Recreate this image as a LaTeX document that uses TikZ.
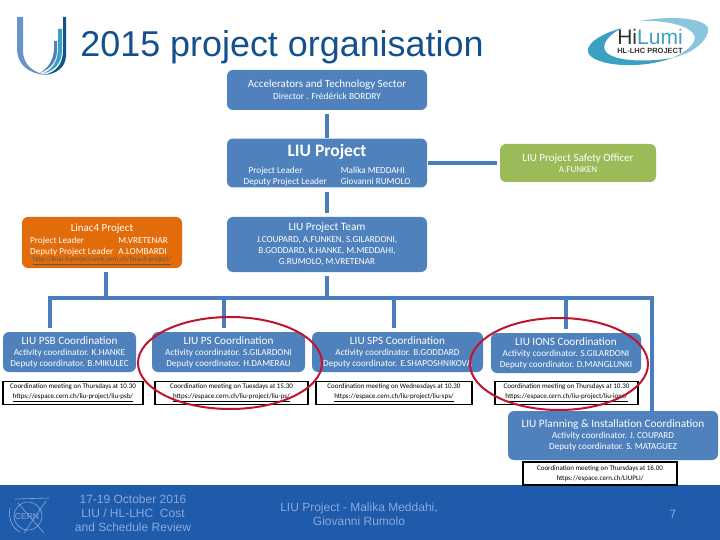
\documentclass[tikz,border=0pt]{standalone}
\usepackage{fontspec}
\setmainfont{Carlito}
\newfontfamily\arialfont{Liberation Sans}
\definecolor{BoxBlue}{RGB}{79,129,189}
\definecolor{BoxOrange}{RGB}{227,108,10}
\definecolor{BoxGreen}{RGB}{155,187,89}
\definecolor{LineBlue}{RGB}{74,126,187}
\definecolor{FootBlue}{RGB}{31,91,171}
\definecolor{FootText}{RGB}{135,170,220}
\definecolor{TitleBlue}{RGB}{20,80,140}
\definecolor{RingRed}{RGB}{190,20,45}
\definecolor{LogoTeal}{RGB}{60,160,195}
\usetikzlibrary{positioning,arrows.meta}
\begin{document}
\begin{tikzpicture}[x=1pt,y=-1pt,
      box/.style={fill=BoxBlue,rounded corners=6pt,inner sep=0pt,align=center,text=white,
                  font=\fontsize{9.2}{11}\selectfont},
      meet/.style={draw=black,line width=1.4pt,fill=white,inner sep=0pt,align=center,
                  font=\fontsize{7}{10}\selectfont},
      foot/.style={text=FootText,align=center,font=\arialfont\fontsize{12}{14}\selectfont},
      link/.style={line width=3.6pt,draw=LineBlue},
      ring/.style={draw=RingRed,line width=2pt}]
    \useasboundingbox (0,0) rectangle (720,540);
    % footer band
    \fill[FootBlue] (0,485) rectangle (720,540);
    \node[text=TitleBlue,font=\arialfont\fontsize{35.9}{38}\selectfont] (title) at (282,47) {2015 project organisation};
    % U logo
    \fill[BoxBlue!85] (17,17) -- (23,17) -- (23,50) .. controls (23,66) and (34,72) .. (46,75) .. controls (30,74) and (17,66) .. (17,48) -- cycle;
    \fill[TitleBlue] (63,17) -- (66,17) -- (66,55) .. controls (66,68) and (56,74) .. (44,75) .. controls (55,72) and (63,66) .. (63,50) -- cycle;
    \fill[LogoTeal] (58,29) -- (62,29) -- (62,50) .. controls (62,64) and (54,71) .. (42,74) .. controls (52,70) and (58,62) .. (58,48) -- cycle;
    \fill[BoxBlue] (54,41) -- (57,41) -- (57,50) .. controls (57,62) and (50,69) .. (40,73) .. controls (48,68) and (54,60) .. (54,48) -- cycle;
    % HiLumi logo
    \fill[LogoTeal] (622,28) .. controls (600,34) and (586,44) .. (588,52) .. controls (592,66) and (640,70) .. (672,58) .. controls (650,62) and (615,62) .. (606,52) .. controls (600,44) and (610,34) .. (622,28) -- cycle;
    \fill[LogoTeal!60] (640,21) .. controls (680,14) and (712,20) .. (708,32) .. controls (705,44) and (690,54) .. (672,58) .. controls (690,50) and (700,40) .. (692,32) .. controls (684,24) and (660,20) .. (640,21) -- cycle;
    \node[font=\arialfont\fontsize{21}{21}\selectfont,text=black!80] (hilumi) at (650,37) {Hi\textcolor{LogoTeal}{Lumi}};
    \node[font=\arialfont\bfseries\fontsize{7.5}{8}\selectfont,text=black!80] (hlproject) at (650,51) {HL-LHC PROJECT};
    % CERN logo
    \node[font=\arialfont\fontsize{8.5}{9}\selectfont,text=FootText] (cernmark) at (27,517) {CERN};
    \draw[FootText,line width=.6pt] (28,516) circle (14) (15,499) -- (49,498) (18,503) -- (44,533) (46,501) -- (24,533) (10,508) .. controls (8,518) and (12,528) .. (20,532);
    % top boxes
    \node[box,minimum width=200pt,minimum height=40pt] (ats) at (327,90) {{\fontsize{11}{14}\selectfont Accelerators and Technology Sector}\\[1pt]{\fontsize{9.4}{11}\selectfont Director . Frédérick BORDRY}};
    \node[box,minimum width=200pt,minimum height=48pt] (liu) at (327,163) {{\bfseries\fontsize{17.5}{20}\selectfont\rule{0pt}{18pt}LIU Project}\\[5pt]\begin{tabular}{@{}l@{\hspace{14pt}}l@{}}\hspace*{5pt}Project Leader&Malika MEDDAHI\\Deputy Project Leader&Giovanni RUMOLO\end{tabular}};
    \node[box,fill=BoxGreen,minimum width=156pt,minimum height=38pt] (safety) at (578,163) {{\fontsize{11}{13}\selectfont LIU Project Safety Officer}\\{\fontsize{9}{11}\selectfont A.FUNKEN}};
    \node[box,fill=BoxOrange,minimum width=160pt,minimum height=51pt] (linac) at (102,242.5) {{\fontsize{11}{12}\selectfont\rule{0pt}{11pt}Linac4 Project}\\[2pt]\begin{tabular}{@{}l@{\hspace{5pt}}l@{\hspace{6pt}}}Project Leader&M.VRETENAR\\Deputy Project Leader&A.LOMBARDI\end{tabular}\\[-2pt]{\fontsize{7}{8}\selectfont\color{black!65}\underline{http://linac4-project.web.cern.ch/linac4-project/}}};
    \node[box,minimum width=200pt,minimum height=55pt] (team) at (327,244.5) {{\fontsize{11.3}{15}\selectfont LIU Project Team}\\[1pt]J.COUPARD, A.FUNKEN, S.GILARDONI,\\B.GODDARD, K.HANKE, M.MEDDAHI,\\G.RUMOLO, M.VRETENAR};
    % coordination boxes
    \node[box,minimum width=133pt,minimum height=40pt] (psb) at (69.5,352) {{\fontsize{11.2}{13}\selectfont LIU PSB Coordination}\\Activity coordinator. K.HANKE\\Deputy coordinator. B.MIKULEC};
    \node[box,minimum width=153pt,minimum height=40pt] (ps) at (228.5,352) {{\fontsize{11.2}{13}\selectfont LIU PS Coordination}\\Activity coordinator. S.GILARDONI\\Deputy coordinator. H.DAMERAU};
    \node[box,minimum width=171pt,minimum height=40pt] (sps) at (397.5,352) {{\fontsize{11.2}{13}\selectfont LIU SPS Coordination}\\Activity coordinator. B.GODDARD\\Deputy coordinator. E.SHAPOSHNIKOVA};
    \node[box,minimum width=150pt,minimum height=40pt] (ions) at (566,353) {{\fontsize{11.2}{13}\selectfont LIU IONS Coordination}\\Activity coordinator. S.GILARDONI\\Deputy coordinator. D.MANGLUNKI};
    \node[box,minimum width=210pt,minimum height=49pt] (plan) at (613,435.5) {{\fontsize{11.3}{14}\selectfont LIU Planning \& Installation Coordination}\\Activity coordinator. J. COUPARD\\Deputy coordinator. S. MATAGUEZ};
    % meeting boxes
    \node[meet,minimum width=140pt,minimum height=23pt] (mpsb) at (73,393) {Coordination meeting on Thursdays at 10.30\\\underline{https://espace.cern.ch/liu-project/liu-psb/}};
    \node[meet,minimum width=153pt,minimum height=23pt] (mps) at (231.5,393) {Coordination meeting on Tuesdays at 15.30\\\underline{https://espace.cern.ch/liu-project/liu-ps/}};
    \node[meet,minimum width=156pt,minimum height=23pt] (msps) at (394,393) {Coordination meeting on Wednesdays at 10.30\\\underline{https://espace.cern.ch/liu-project/liu-sps/}};
    \node[meet,minimum width=143pt,minimum height=23pt] (mions) at (566.5,393) {Coordination meeting on Thursdays at 10.30\\\underline{https://espace.cern.ch/liu-project/liu-ions/}};
    \node[meet,minimum width=154pt,minimum height=23pt] (mplan) at (600,473.5) {Coordination meeting on Thursdays at 16.00\\https://espace.cern.ch/LIUPLI/};
    % connectors
    \coordinate (busleft) at (50,298);
    \coordinate (busright) at (652,298);
    \coordinate (dropa) at (50,298);
    \coordinate (dropb) at (224,298);
    \coordinate (dropc) at (394,298);
    \coordinate (dropd) at (566,298);
    \coordinate (dropl) at (106,298);
    \coordinate (dropt) at (327,298);
    \draw[link,line cap=rect] (busleft) -- (busright);
    \draw[link,shorten <=4pt] (ats) -- (liu);
    \draw[link,shorten <=4pt,shorten >=4pt] (liu) -- (team);
    \draw[link,shorten <=1pt,shorten >=3pt] (liu) -- (safety);
    \draw[link,shorten <=4pt] (team) -- (dropt);
    \draw[link,shorten <=4pt] (dropl |- linac.south) -- (dropl);
    \foreach \x/\y in {dropa/psb,dropb/ps,dropc/sps,dropd/ions} \draw[link,shorten >=4pt] (\x) -- (\x |- \y.north);
    \draw[link] (busright) -- (busright |- plan.north);
    % rings
    \draw[ring] (230,363) ellipse [x radius=92,y radius=46];
    \draw[ring] (559,364) ellipse [x radius=89,y radius=46];
    % footer text
    \node[foot] (date) at (133,513.5) {17-19 October 2016\\LIU / HL-LHC\ \ Cost\\and Schedule Review};
    \node[foot] (authors) at (359,514) {LIU Project - Malika Meddahi,\\Giovanni Rumolo};
    \node[foot] (pageno) at (673,514) {7};
\end{tikzpicture}
\end{document}
